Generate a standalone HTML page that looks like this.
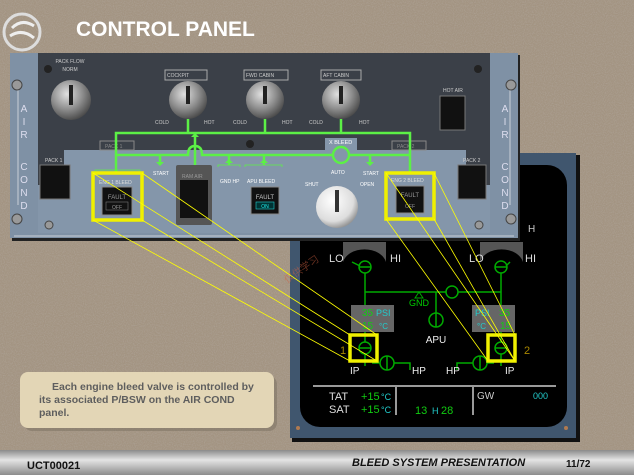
<!DOCTYPE html>
<html><head><meta charset="utf-8"><style>
html,body{margin:0;padding:0;width:634px;height:475px;overflow:hidden;background:#a09080}
svg{display:block}
text{font-family:"Liberation Sans",sans-serif}
</style></head><body>
<svg width="634" height="475" viewBox="0 0 634 475" xmlns="http://www.w3.org/2000/svg">
<defs>
<filter id="noise" x="0" y="0" width="100%" height="100%">
<feTurbulence type="fractalNoise" baseFrequency="0.9" numOctaves="2" seed="3"/>
<feColorMatrix type="matrix" values="0 0 0 0 0.45  0 0 0 0 0.40  0 0 0 0 0.35  0 0 0 1.6 -0.6"/>
</filter>
<linearGradient id="bar" x1="0" y1="0" x2="0" y2="1"><stop offset="0" stop-color="#8a8a8a"/><stop offset="0.4" stop-color="#e4e4e4"/><stop offset="1" stop-color="#8c8c8c"/></linearGradient>
<radialGradient id="knob" cx="0.4" cy="0.35" r="0.7"><stop offset="0" stop-color="#e0e0e0"/><stop offset="0.55" stop-color="#8e8e8e"/><stop offset="1" stop-color="#444"/></radialGradient>
<radialGradient id="knobw" cx="0.4" cy="0.35" r="0.7"><stop offset="0" stop-color="#fff"/><stop offset="0.7" stop-color="#ddd"/><stop offset="1" stop-color="#888"/></radialGradient>
</defs>
<rect width="634" height="475" fill="#a39482"/>
<rect width="634" height="475" filter="url(#noise)" opacity="0.7"/>

<!-- logo -->
<circle cx="22" cy="32" r="18" fill="none" stroke="#ddd" stroke-width="3"/>
<path d="M12 28 Q22 18 34 26 M10 36 Q22 28 34 38" stroke="#eee" stroke-width="3" fill="none"/>
<text x="76" y="36" font-size="21" font-weight="bold" fill="#fff">CONTROL PANEL</text>

<!-- ECAM -->
<rect x="292" y="155" width="288" height="287" fill="#111"/>
<rect x="290" y="153" width="286" height="285" fill="#40566e"/>
<rect x="300" y="165" width="267" height="262" rx="20" fill="#000"/>
<circle cx="298" cy="428" r="2" fill="#b07a50"/><circle cx="566" cy="428" r="2" fill="#b07a50"/>
<path d="M343 242 h43 v20 a22 16 0 0 0 -43 0 z" fill="#555"/>
<path d="M480 242 h43 v20 a22 16 0 0 0 -43 0 z" fill="#555"/>
<text x="329" y="262" font-size="11" fill="#ddd">LO</text><text x="390" y="262" font-size="11" fill="#ddd">HI</text>
<text x="469" y="262" font-size="11" fill="#ddd">LO</text><text x="525" y="262" font-size="11" fill="#ddd">HI</text>
<g stroke="#0a0" stroke-width="1.5" fill="none">
<line x1="352" y1="262" x2="360" y2="266"/><line x1="510" y1="262" x2="506" y2="266"/>
<circle cx="365" cy="267" r="6"/><line x1="359" y1="267" x2="371" y2="267"/>
<circle cx="501" cy="267" r="6"/><line x1="495" y1="267" x2="507" y2="267"/>
<line x1="365" y1="273" x2="365" y2="305"/><line x1="501" y1="273" x2="501" y2="305"/>
<line x1="365" y1="292" x2="501" y2="292"/>
<circle cx="452" cy="292" r="6" fill="#000"/>
<line x1="436" y1="292" x2="436" y2="313"/>
<circle cx="436" cy="320" r="7"/><line x1="436" y1="313" x2="436" y2="327"/>
<circle cx="365" cy="348" r="6"/><line x1="359" y1="348" x2="371" y2="348"/>
<circle cx="501" cy="348" r="6"/><line x1="495" y1="348" x2="507" y2="348"/>
<line x1="365" y1="332" x2="365" y2="342"/><line x1="501" y1="332" x2="501" y2="342"/>
<line x1="365" y1="354" x2="365" y2="366"/><line x1="501" y1="354" x2="501" y2="366"/>
<path d="M372 363 h8 M394 363 h16 v7"/><circle cx="387" cy="363" r="7"/><line x1="387" y1="356" x2="387" y2="370"/>
<path d="M494 363 h-7 M473 363 h-16 v7"/><circle cx="480" cy="363" r="7"/><line x1="480" y1="356" x2="480" y2="370"/>
</g>
<path d="M419 292 l-4 6 h8 z" fill="none" stroke="#0a0"/>
<text x="419" y="306" font-size="9" fill="#0c0" text-anchor="middle">GND</text>
<text x="436" y="343" font-size="10" fill="#eee" text-anchor="middle">APU</text>
<rect x="351" y="305" width="43" height="27" fill="#666"/>
<rect x="472" y="305" width="43" height="27" fill="#666"/>
<text x="362" y="316" font-size="10" fill="#1c1">35</text><text x="376" y="316" font-size="9" fill="#2cc">PSI</text>
<text x="362" y="329" font-size="10" fill="#1c1">15</text><text x="379" y="329" font-size="8" fill="#2cc">°C</text>
<text x="475" y="316" font-size="9" fill="#2cc">PSI</text><text x="499" y="316" font-size="10" fill="#1c1">35</text>
<text x="477" y="329" font-size="8" fill="#2cc">°C</text><text x="500" y="329" font-size="10" fill="#1c1">15</text>
<text x="340" y="354" font-size="11" fill="#a80">1</text><text x="524" y="354" font-size="11" fill="#a80">2</text>
<text x="350" y="374" font-size="10" fill="#eee">IP</text><text x="505" y="374" font-size="10" fill="#eee">IP</text>
<text x="412" y="374" font-size="10" fill="#eee">HP</text><text x="446" y="374" font-size="10" fill="#eee">HP</text>
<g stroke="#999" stroke-width="2"><line x1="313" y1="386" x2="556" y2="386"/><line x1="396" y1="386" x2="396" y2="415"/><line x1="473" y1="386" x2="473" y2="415"/></g>
<text x="329" y="400" font-size="11" fill="#ddd">TAT</text><text x="361" y="400" font-size="11" fill="#1c1">+15</text><text x="381" y="400" font-size="9" fill="#2cc">°C</text>
<text x="329" y="413" font-size="11" fill="#ddd">SAT</text><text x="361" y="413" font-size="11" fill="#1c1">+15</text><text x="381" y="413" font-size="9" fill="#2cc">°C</text>
<text x="415" y="414" font-size="11" fill="#1c1">13</text><text x="432" y="414" font-size="9" fill="#2cc">H</text><text x="441" y="414" font-size="11" fill="#1c1">28</text>
<text x="477" y="399" font-size="10" fill="#ccc">GW</text><text x="533" y="399" font-size="9" fill="#2cc">000</text>
<text x="528" y="232" font-size="10" fill="#ccc">H</text>

<!-- panel -->
<rect x="12" y="55" width="508" height="186" fill="#222"/>
<rect x="10" y="53" width="508" height="185" fill="#7f91a5"/>
<path d="M38 53 H490 V185 H38 Z" fill="#3b4048"/>
<path d="M64 150 H325 V138 H357 V150 H466 V185 H490 V233 H38 V185 H64 Z" fill="#8496aa"/>
<line x1="14" y1="236" x2="514" y2="236" stroke="#c8d0d8"/>
<line x1="18" y1="88" x2="18" y2="205" stroke="#c8d0d8"/><line x1="510" y1="88" x2="510" y2="205" stroke="#c8d0d8"/>
<g font-size="10" fill="#dde" text-anchor="middle">
<text x="24" y="112">A</text><text x="24" y="125">I</text><text x="24" y="138">R</text>
<text x="24" y="170">C</text><text x="24" y="183">O</text><text x="24" y="196">N</text><text x="24" y="209">D</text>
<text x="505" y="112">A</text><text x="505" y="125">I</text><text x="505" y="138">R</text>
<text x="505" y="170">C</text><text x="505" y="183">O</text><text x="505" y="196">N</text><text x="505" y="209">D</text>
</g>
<g fill="#999" stroke="#444"><circle cx="17" cy="85" r="5"/><circle cx="511" cy="85" r="5"/><circle cx="17" cy="219" r="5"/><circle cx="511" cy="219" r="5"/><circle cx="49" cy="225" r="4"/><circle cx="479" cy="225" r="4"/></g>
<circle cx="48" cy="69" r="4" fill="#222"/><circle cx="478" cy="69" r="4" fill="#222"/><circle cx="250" cy="144" r="4" fill="#222"/>
<text x="70" y="63" font-size="5" fill="#ccc" text-anchor="middle">PACK FLOW</text>
<text x="70" y="71" font-size="5" fill="#ccc" text-anchor="middle">NORM</text>
<circle cx="71" cy="100" r="20" fill="url(#knob)"/><rect x="69" y="85" width="4" height="20" fill="#222"/>
<g font-size="5" fill="#ccc"><text x="167" y="77">COCKPIT</text><text x="246" y="77">FWD CABIN</text><text x="323" y="77">AFT CABIN</text>
<text x="155" y="124">COLD</text><text x="204" y="124">HOT</text><text x="233" y="124">COLD</text><text x="282" y="124">HOT</text><text x="309" y="124">COLD</text><text x="359" y="124">HOT</text>
<text x="443" y="92">HOT AIR</text></g>
<g stroke="#aaa" fill="none"><rect x="165" y="70" width="42" height="10"/><rect x="244" y="70" width="44" height="10"/><rect x="321" y="70" width="40" height="10"/></g>
<circle cx="188" cy="100" r="19" fill="url(#knob)"/><rect x="186" y="86" width="4" height="18" fill="#222"/>
<circle cx="265" cy="100" r="19" fill="url(#knob)"/><rect x="263" y="86" width="4" height="18" fill="#222"/>
<circle cx="341" cy="100" r="19" fill="url(#knob)"/><rect x="339" y="86" width="4" height="18" fill="#222"/>
<rect x="440" y="96" width="25" height="34" fill="#111" stroke="#777"/>
<rect x="40" y="165" width="30" height="34" fill="#111" stroke="#777"/>
<rect x="458" y="165" width="28" height="34" fill="#111" stroke="#777"/>
<text x="45" y="162" font-size="5" fill="#ccc">PACK 1</text><text x="463" y="162" font-size="5" fill="#ccc">PACK 2</text>
<g stroke="#888" fill="none"><rect x="100" y="141" width="34" height="9"/><rect x="392" y="141" width="34" height="9"/></g>
<text x="105" y="148" font-size="5" fill="#888">PACK 1</text><text x="397" y="148" font-size="5" fill="#888">PACK 2</text>
<text x="329" y="144" font-size="5.5" fill="#fff">X BLEED</text>
<g stroke="#5cf046" stroke-width="2.5" fill="none">
<line x1="188" y1="119" x2="188" y2="133"/><line x1="265" y1="119" x2="265" y2="133"/><line x1="341" y1="119" x2="341" y2="133"/>
<path d="M116 173 V133 H410 V173"/>
<path d="M116 155 H188 Q188 146 195 146 Q202 146 202 155 H333 M349 155 H410"/>
<line x1="195" y1="133" x2="195" y2="168"/>
<circle cx="341" cy="155" r="8"/>
<path d="M160 155 v8 M229 155 v10 M264 155 v10 M370 155 v8"/>
</g>
<g fill="#5cf046"><path d="M156 162 h8 l-4 4z"/><path d="M366 162 h8 l-4 4z"/><path d="M225 163 h8 l-4 -4z"/><path d="M260 163 h8 l-4 -4z"/><path d="M191 137 h8 l-4 -4z"/></g>
<g stroke="#5cf046" fill="none" stroke-width="0.8"><path d="M218 167 v-2 h22 v2"/><path d="M245 167 v-2 h37 v2"/><path d="M95 172 v-2 h45 v2"/></g>
<g font-size="5" fill="#fff"><text x="153" y="175">START</text><text x="363" y="175">START</text><text x="220" y="183">GND HP</text><text x="247" y="183">APU BLEED</text><text x="331" y="174">AUTO</text><text x="305" y="186">SHUT</text><text x="360" y="186">OPEN</text></g>
<rect x="176" y="165" width="36" height="60" fill="#555" rx="2"/><rect x="180" y="180" width="28" height="38" fill="#111"/>
<text x="182" y="178" font-size="5" fill="#999">RAM AIR</text>
<rect x="251" y="187" width="28" height="27" fill="#111" stroke="#888"/>
<text x="265" y="199" font-size="6" fill="#ccc" text-anchor="middle">FAULT</text>
<rect x="256" y="202" width="18" height="7" fill="#033" stroke="#2cc" stroke-width="0.6"/><text x="265" y="208" font-size="5" fill="#2ee" text-anchor="middle">ON</text>
<circle cx="337" cy="207" r="21" fill="url(#knobw)"/><rect x="335" y="190" width="4" height="22" fill="#333"/>
<rect x="93" y="173" width="49" height="47" fill="none" stroke="#f0f000" stroke-width="3.5"/>
<rect x="102" y="187" width="30" height="28" fill="#111" stroke="#888"/>
<text x="117" y="199" font-size="6" fill="#999" text-anchor="middle">FAULT</text><rect x="106" y="202" width="22" height="8" fill="none" stroke="#777" stroke-width="0.6"/><text x="117" y="209" font-size="5" fill="#999" text-anchor="middle">OFF</text>
<text x="99" y="184" font-size="5" fill="#ddd">ENG 1 BLEED</text>
<rect x="386" y="173" width="48" height="46" fill="none" stroke="#f0f000" stroke-width="3.5"/>
<rect x="396" y="186" width="28" height="27" fill="#111" stroke="#888"/>
<text x="410" y="197" font-size="6" fill="#999" text-anchor="middle">FAULT</text><text x="410" y="208" font-size="5" fill="#999" text-anchor="middle">OFF</text>
<text x="391" y="182" font-size="5" fill="#ddd">ENG 2 BLEED</text>
<text x="270" y="270" font-size="10" fill="#d06040" opacity="0.5" transform="rotate(-35 300 250)">仅供学习</text>
<rect x="350" y="335" width="27" height="26" fill="none" stroke="#f0f000" stroke-width="3.5"/>
<rect x="488" y="335" width="27" height="26" fill="none" stroke="#f0f000" stroke-width="3.5"/>
<g stroke="#ff0" stroke-width="0.8">
<line x1="93" y1="220" x2="350" y2="361"/><line x1="142" y1="220" x2="377" y2="361"/><line x1="142" y1="173" x2="377" y2="335"/><line x1="93" y1="173" x2="350" y2="335"/>
<line x1="386" y1="219" x2="488" y2="361"/><line x1="434" y1="219" x2="515" y2="361"/><line x1="434" y1="173" x2="515" y2="335"/><line x1="386" y1="173" x2="515" y2="361"/>
</g>

<rect x="24" y="376" width="253" height="55" rx="8" fill="#7a7060" opacity="0.5"/>
<rect x="20" y="372" width="254" height="56" rx="8" fill="#e3d6b6"/>
<g font-size="10.5" font-weight="bold" fill="#5e5e5e">
<text x="52" y="390">Each engine bleed valve is controlled by</text>
<text x="39" y="403">its associated P/BSW on the AIR COND</text>
<text x="39" y="416">panel.</text></g>

<rect x="0" y="450" width="634" height="25" fill="url(#bar)"/>
<text x="27" y="469" font-size="11" font-weight="bold" fill="#111">UCT00021</text>
<text x="352" y="466" font-size="11" font-weight="bold" font-style="italic" fill="#111">BLEED SYSTEM PRESENTATION</text>
<text x="566" y="467" font-size="10" font-family="Liberation Serif" font-weight="bold" fill="#111">11/72</text>
</svg>
</body></html>
